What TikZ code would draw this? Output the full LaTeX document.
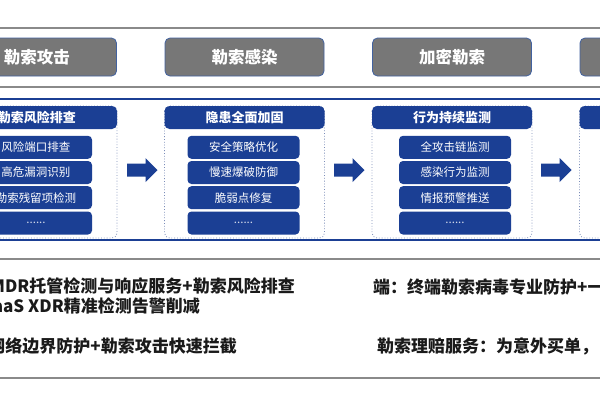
\documentclass[tikz,border=0pt]{standalone}
\usepackage{fontspec}
\setmainfont{Noto Sans CJK SC}
\definecolor{cblue}{HTML}{1B3F94}
\definecolor{cgray}{HTML}{777777}
\definecolor{lgray}{HTML}{8A8A8A}
\definecolor{bedge}{HTML}{4262A0}
\definecolor{dotc}{HTML}{7A8CB8}
\definecolor{txt}{HTML}{1A1A1A}
\tikzset{
  grayline/.style={draw=lgray, line width=2.6pt},
  blueline/.style={draw=cblue, line width=2.6pt},
  topbox/.style={draw=bedge, line width=0.8pt, fill=cgray, rounded corners=5pt,
    minimum width=159pt, minimum height=38pt, inner sep=0pt,
    text=white, font=\fontsize{16.5}{18}\selectfont\bfseries},
  hdr/.style={fill=cblue, rounded corners=5pt, minimum width=160pt, minimum height=23pt,
    inner sep=0pt, text=white, font=\fontsize{13}{15}\selectfont\bfseries},
  item/.style={fill=cblue, rounded corners=4pt, minimum width=112pt, minimum height=23pt,
    inner sep=0pt, text=white, font=\fontsize{11.5}{13}\selectfont},
  dots/.style={item, text=white!80!cblue},
  panel/.style={draw=dotc, line width=0.8pt, dotted, rounded corners=5pt},
  barrow/.style={fill=cblue},
  btxt/.style={inner sep=0pt, text=txt, font=\fontsize{17}{19}\selectfont\bfseries}
}
\begin{document}
\begin{tikzpicture}[x=1pt,y=-1pt]
\useasboundingbox (0,0) rectangle (600,400);
\clip (0,0) rectangle (600,400);
\fill[white] (0,0) rectangle (600,400);
% band lines
\draw[grayline] (-5,28) -- (605,28);
\draw[grayline] (-5,87) -- (605,87);
\draw[blueline] (-5,99) -- (605,99);
\draw[blueline] (-5,240) -- (605,240);
\draw[grayline] (-5,259) -- (605,259);
\draw[grayline] (-5,378) -- (605,378);
% top stage boxes
\node[topbox] (t1) at (37,57) {勒索攻击};
\node[topbox] (t2) at (244.5,57) {勒索感染};
\node[topbox] (t3) at (452,57) {加密勒索};
\node[topbox] (t4) at (659.5,57) {};
% panels
\draw[panel] (-43,106) rectangle (117,238);
\draw[panel] (164.5,106) rectangle (324.5,238);
\draw[panel] (372,106) rectangle (532,238);
\draw[panel] (579.5,106) rectangle (739.5,238);
\node[hdr] (h1) at (37,117.5) {勒索风险排查};
\node[hdr] (h2) at (244.5,117.5) {隐患全面加固};
\node[hdr] (h3) at (452,117.5) {行为持续监测};
\node[hdr] (h4) at (659.5,117.5) {};
% panel 1 items
\node[item] (a1) at (36,147.3) {风险端口排查};
\node[item] (a2) at (36,172.5) {高危漏洞识别};
\node[item] (a3) at (36,197.7) {勒索残留项检测};
\node[dots] (a4) at (36,223) {......};
% panel 2 items
\node[item] (b1) at (243.5,147.3) {安全策略优化};
\node[item] (b2) at (243.5,172.5) {慢速爆破防御};
\node[item] (b3) at (243.5,197.7) {脆弱点修复};
\node[dots] (b4) at (243.5,223) {......};
% panel 3 items
\node[item] (c1) at (455,147.3) {全攻击链监测};
\node[item] (c2) at (455,172.5) {感染行为监测};
\node[item] (c3) at (455,197.7) {情报预警推送};
\node[dots] (c4) at (455,223) {......};
% block arrows
\foreach \x/\n in {127/r1, 334/r2, 541/r3}{
  \coordinate (\n) at (\x,170);
  \fill[barrow] (\n) ++(0,-6.5) -- ++(18.5,0) -- ++(0,-5.5) -- ++(12,12) -- ++(-12,12)
     -- ++(0,-5.5) -- ++(-18.5,0) -- cycle;
}
% bottom texts
\node[btxt, anchor=east] (l1) at (295,286) {MDR托管检测与响应服务+勒索风险排查};
\node[btxt, anchor=east] (l2) at (200,306) {SaaS XDR精准检测告警削减};
\node[btxt, anchor=east] (l3) at (237,346) {网络边界防护+勒索攻击快速拦截};
\node[btxt, anchor=west] (r1t) at (373,287) {端：终端勒索病毒专业防护+一};
\node[btxt, anchor=west] (r2t) at (377,346) {勒索理赔服务：为意外买单，};
\end{tikzpicture}
\end{document}
